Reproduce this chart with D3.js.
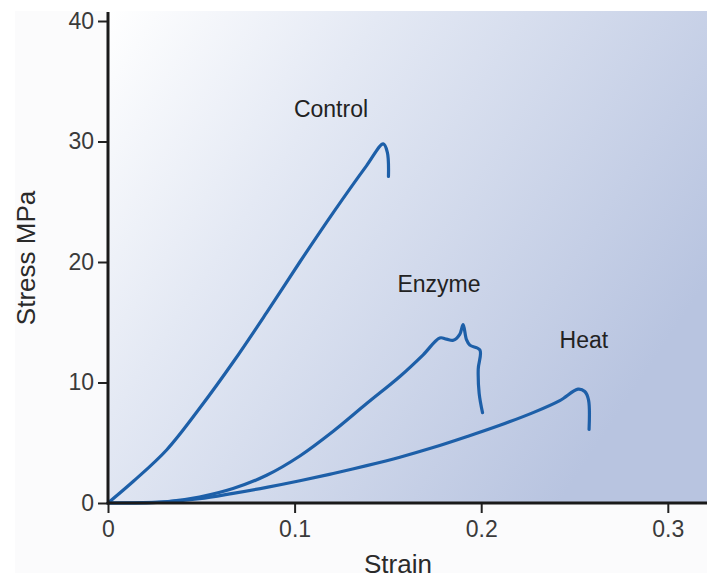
<!DOCTYPE html>
<html>
<head>
<meta charset="utf-8">
<script src="https://cdn.jsdelivr.net/npm/d3@7"></script>
<style>
  body { margin: 0; background: #fff; }
  text { font-family: "Liberation Sans", Arial, sans-serif; }
</style>
</head>
<body>
<div id="main"></div>
<script>
// stress-strain curves [strain, stress MPa]
var control = [[0, 0], [0.0136, 1.8], [0.0314, 4.4], [0.0493, 7.9], [0.0671, 11.7], [0.085, 15.8],
  [0.1028, 20.0], [0.1207, 24.1], [0.1386, 28.0], [0.1475, 29.8], [0.1497, 29.1], [0.1503, 27.1]];
var enzyme = [[0, 0], [0.031, 0.1], [0.049, 0.5], [0.067, 1.2], [0.085, 2.3], [0.1028, 3.9],
  [0.1207, 5.95], [0.1386, 8.25], [0.1564, 10.5], [0.1689, 12.3], [0.1778, 13.7], [0.1814, 13.6],
  [0.185, 13.5], [0.1885, 14.0], [0.1903, 14.8], [0.1921, 13.55], [0.1939, 13.1], [0.1993, 12.7],
  [0.1984, 11.1], [0.1989, 9.1], [0.2007, 7.5]];
var heat = [[0, 0], [0.031, 0.1], [0.049, 0.35], [0.067, 0.8], [0.085, 1.3], [0.1028, 1.85],
  [0.1207, 2.45], [0.1386, 3.1], [0.1564, 3.8], [0.1742, 4.6], [0.1921, 5.5], [0.21, 6.45],
  [0.2278, 7.5], [0.2421, 8.5], [0.2519, 9.45], [0.2555, 9.25], [0.2575, 8.56], [0.2578, 6.1]];

var seriesNames = ["Control", "Enzyme", "Heat"];
var seriesData = [control, enzyme, heat];
// label anchor (data units)
var labelPos = [[0.1195, 32.0], [0.1774, 17.5], [0.255, 12.9]];

var xTicks = [0, 0.1, 0.2, 0.3];
var yTicks = [0, 10, 20, 30, 40];

var W = 707, H = 579;

var svg = d3.select("#main")
  .append("svg")
  .attr("width", W)
  .attr("height", H);

var x = d3.scaleLinear().domain([0, 0.321]).range([108, 707]);
var y = d3.scaleLinear().domain([0, 40]).range([503, 21]);

var defs = svg.append("defs");
var grad = defs.append("linearGradient")
  .attr("id", "bg")
  .attr("x1", 0).attr("y1", 0)
  .attr("x2", 1).attr("y2", 0.55);
grad.append("stop").attr("offset", "0").attr("stop-color", "#ffffff");
grad.append("stop").attr("offset", "0.35").attr("stop-color", "#e4e9f4");
grad.append("stop").attr("offset", "1").attr("stop-color", "#b8c4e0");

// faint page panel
svg.append("rect")
  .attr("x", 15).attr("y", 11)
  .attr("width", W - 15).attr("height", 562)
  .attr("fill", "#fbfbfc");

// plot area
svg.append("rect")
  .attr("x", x(0)).attr("y", 11)
  .attr("width", W - x(0)).attr("height", y(0) - 11)
  .attr("fill", "url(#bg)");

// curves
var line = d3.line()
  .curve(d3.curveCatmullRom.alpha(0.5))
  .x(function (d) { return x(d[0]); })
  .y(function (d) { return y(d[1]); });

svg.selectAll(".curve")
  .data(seriesData)
  .enter()
  .append("path")
  .attr("class", "curve")
  .attr("d", line)
  .attr("fill", "none")
  .attr("stroke", "#1d5fa8")
  .attr("stroke-width", 3.2)
  .attr("stroke-linecap", "round")
  .attr("stroke-linejoin", "round");

// curve labels
svg.selectAll(".lab")
  .data(seriesNames)
  .enter()
  .append("text")
  .attr("class", "lab")
  .attr("x", function (d, i) { return x(labelPos[i][0]); })
  .attr("y", function (d, i) { return y(labelPos[i][1]); })
  .attr("text-anchor", "middle")
  .attr("fill", "#222")
  .style("font-size", "23px")
  .text(function (d) { return d; });

// axes
var xAxis = svg.append("g")
  .attr("transform", "translate(0," + y(0) + ")")
  .call(d3.axisBottom(x).tickValues(xTicks).tickSize(10).tickPadding(8)
    .tickFormat(function (d) { return d === 0 ? "0" : d3.format(".1f")(d); }));
var yAxis = svg.append("g")
  .attr("transform", "translate(" + x(0) + ",0)")
  .call(d3.axisLeft(y).tickValues(yTicks).tickSize(10).tickPadding(4));

[xAxis, yAxis].forEach(function (g) {
  g.select(".domain").remove();
  g.selectAll(".tick line").attr("stroke", "#222").attr("stroke-width", 2);
  g.selectAll(".tick text")
    .attr("fill", "#3a3a3a")
    .style("font-size", "23px")
    .style("font-family", "'Liberation Sans', Arial, sans-serif");
});

// axis lines
svg.append("line")
  .attr("x1", x(0)).attr("x2", W)
  .attr("y1", y(0)).attr("y2", y(0))
  .attr("stroke", "#1a1a1a").attr("stroke-width", 3);
svg.append("line")
  .attr("x1", x(0)).attr("x2", x(0))
  .attr("y1", 12).attr("y2", y(0) + 1.5)
  .attr("stroke", "#1a1a1a").attr("stroke-width", 3);

// axis titles
svg.append("text")
  .attr("x", 398)
  .attr("y", 573)
  .attr("text-anchor", "middle")
  .attr("fill", "#2a2a2a")
  .style("font-size", "26px")
  .text("Strain");

svg.append("text")
  .attr("transform", "translate(35,258) rotate(-90)")
  .attr("text-anchor", "middle")
  .attr("fill", "#2a2a2a")
  .style("font-size", "26px")
  .text("Stress MPa");
</script>
</body>
</html>
